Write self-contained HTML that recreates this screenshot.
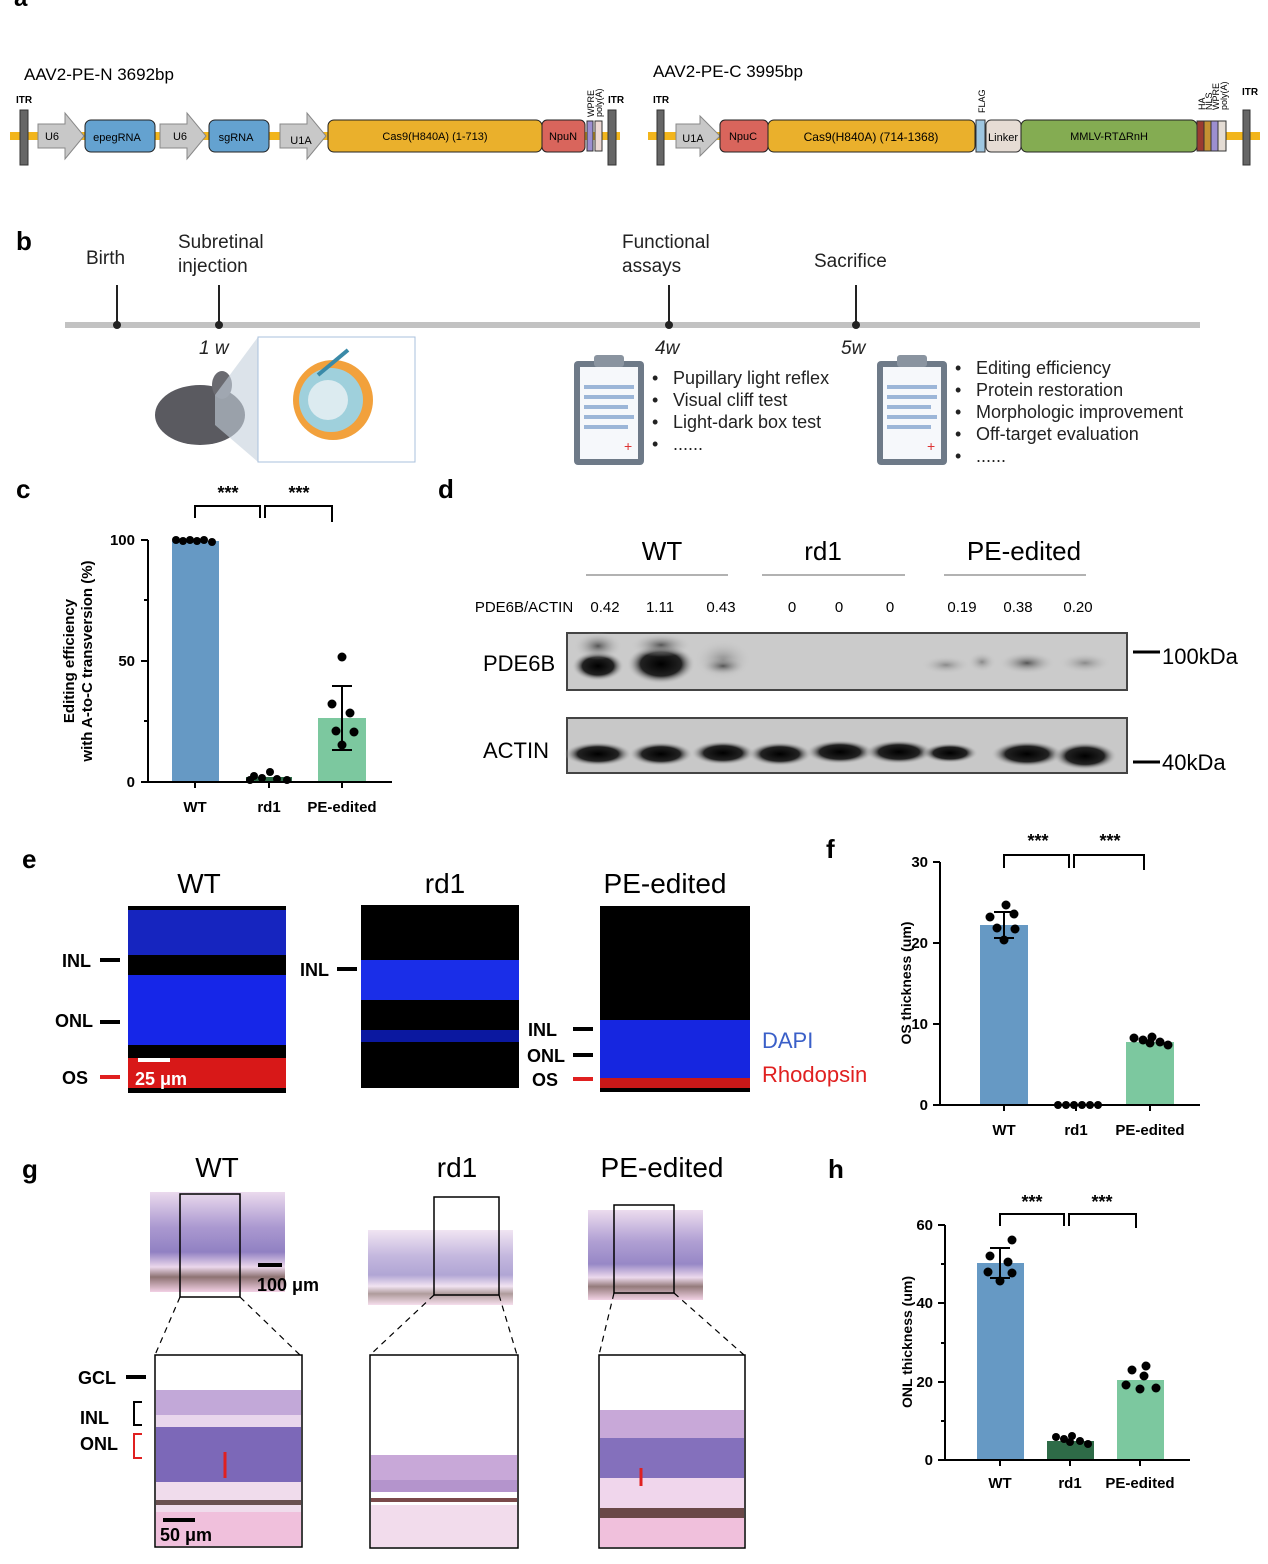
<!DOCTYPE html>
<html><head><meta charset="utf-8"><style>
html,body{margin:0;padding:0;background:#fff}
svg{display:block}
text{font-family:"Liberation Sans",Arial,sans-serif}
</style></head><body>
<svg width="1268" height="1564" viewBox="0 0 1268 1564" xmlns="http://www.w3.org/2000/svg">
<defs>
<radialGradient id="bd" cx="50%" cy="50%" r="50%"><stop offset="0" stop-color="#000"/><stop offset="0.6" stop-color="#222"/><stop offset="1" stop-color="#c8c8c8" stop-opacity="0"/></radialGradient>
<radialGradient id="bf" cx="50%" cy="50%" r="50%"><stop offset="0" stop-color="#555"/><stop offset="1" stop-color="#c8c8c8" stop-opacity="0"/></radialGradient>
<radialGradient id="bl" cx="50%" cy="50%" r="50%"><stop offset="0" stop-color="#8a8a8a"/><stop offset="1" stop-color="#c8c8c8" stop-opacity="0"/></radialGradient>
<linearGradient id="he" x1="0" y1="0" x2="0" y2="1"><stop offset="0" stop-color="#e7d3ea"/><stop offset="0.35" stop-color="#9c87c8"/><stop offset="0.6" stop-color="#7d6ab8"/><stop offset="0.75" stop-color="#e8d0e8"/><stop offset="0.85" stop-color="#7a5a5a"/><stop offset="1" stop-color="#f0c8e0"/></linearGradient>
</defs>
<text x="14" y="6" font-size="24" font-weight="bold">a</text>
<text x="24" y="80" font-size="17">AAV2-PE-N 3692bp</text>
<rect x="10" y="132" width="610" height="8" fill="#f2b51c"/>
<text x="16" y="103" font-size="10" font-weight="bold">ITR</text>
<rect x="20" y="110" width="8" height="55" fill="#666" stroke="#333"/>
<polygon points="38,124 65,124 65,113 84,136 65,159 65,148 38,148" fill="#c8c8c8" stroke="#888"/><text x="52" y="140" font-size="11" text-anchor="middle">U6</text>
<rect x="85" y="120" width="70" height="32" rx="6" fill="#64a2d0" stroke="#222"/><text x="117" y="141" font-size="11" text-anchor="middle">epegRNA</text>
<polygon points="160,124 187,124 187,113 206,136 187,159 187,148 160,148" fill="#c8c8c8" stroke="#888"/><text x="180" y="140" font-size="11" text-anchor="middle">U6</text>
<rect x="209" y="120" width="60" height="32" rx="6" fill="#64a2d0" stroke="#222"/><text x="236" y="141" font-size="11" text-anchor="middle">sgRNA</text>
<polygon points="280,124 307,124 307,113 326,136 307,159 307,148 280,148" fill="#c8c8c8" stroke="#888"/><text x="301" y="144" font-size="11" text-anchor="middle">U1A</text>
<rect x="328" y="120" width="214" height="32" rx="6" fill="#eab02c" stroke="#222"/><text x="435" y="140" font-size="11" text-anchor="middle">Cas9(H840A) (1-713)</text>
<rect x="542" y="120" width="43" height="32" rx="5" fill="#d9655c" stroke="#222"/><text x="563" y="140" font-size="11" text-anchor="middle">NpuN</text>
<rect x="587" y="121" width="6" height="30" fill="#9c8fd0" stroke="#333"/><rect x="595" y="121" width="7" height="30" fill="#ecd8d4" stroke="#333"/>
<text transform="translate(594,117) rotate(-90)" font-size="9">WPRE</text><text transform="translate(602,117) rotate(-90)" font-size="9">poly(A)</text>
<text x="608" y="103" font-size="10" font-weight="bold">ITR</text>
<rect x="608" y="110" width="8" height="55" fill="#666" stroke="#333"/>
<text x="653" y="77" font-size="17">AAV2-PE-C 3995bp</text>
<rect x="648" y="132" width="612" height="8" fill="#f2b51c"/>
<text x="653" y="103" font-size="10" font-weight="bold">ITR</text>
<rect x="657" y="110" width="7" height="55" fill="#666" stroke="#333"/>
<polygon points="676,124 700,124 700,116 720,136 700,156 700,148 676,148" fill="#c8c8c8" stroke="#888"/><text x="693" y="142" font-size="11" text-anchor="middle">U1A</text>
<rect x="720" y="120" width="48" height="32" rx="5" fill="#d9655c" stroke="#222"/><text x="743" y="140" font-size="11" text-anchor="middle">NpuC</text>
<rect x="768" y="120" width="207" height="32" rx="6" fill="#eab02c" stroke="#222"/><text x="871" y="141" font-size="12" text-anchor="middle">Cas9(H840A) (714-1368)</text>
<rect x="976" y="120" width="9" height="32" fill="#9ec6e0" stroke="#333"/><text transform="translate(985,113) rotate(-90)" font-size="9">FLAG</text>
<rect x="986" y="120" width="35" height="32" rx="5" fill="#e6dcd4" stroke="#333"/><text x="1003" y="141" font-size="11" text-anchor="middle">Linker</text>
<rect x="1021" y="120" width="176" height="32" rx="6" fill="#84ac52" stroke="#222"/><text x="1109" y="140" font-size="11" text-anchor="middle">MMLV-RTΔRnH</text>
<rect x="1197" y="121" width="7" height="30" fill="#9b3b30" stroke="#333"/><rect x="1204" y="121" width="7" height="30" fill="#c59232" stroke="#333"/><rect x="1211" y="121" width="7" height="30" fill="#9c8fd0" stroke="#333"/><rect x="1218" y="121" width="8" height="30" fill="#e4dcd4" stroke="#333"/>
<text transform="translate(1205,110) rotate(-90)" font-size="9">HA</text><text transform="translate(1212,110) rotate(-90)" font-size="9">NLS</text><text transform="translate(1219,110) rotate(-90)" font-size="9">WPRE</text><text transform="translate(1227,110) rotate(-90)" font-size="9">poly(A)</text>
<text x="1242" y="95" font-size="10" font-weight="bold">ITR</text>
<rect x="1243" y="110" width="7" height="55" fill="#666" stroke="#333"/>
<!-- panel b -->
<text x="16" y="250" font-size="26" font-weight="bold">b</text>
<rect x="65" y="322" width="1135" height="6" fill="#c2c2c2"/>
<g stroke="#222" stroke-width="2"><line x1="117" y1="285" x2="117" y2="325"/><line x1="219" y1="285" x2="219" y2="325"/><line x1="669" y1="285" x2="669" y2="325"/><line x1="856" y1="285" x2="856" y2="325"/></g>
<g fill="#222"><circle cx="117" cy="325" r="4"/><circle cx="219" cy="325" r="4"/><circle cx="669" cy="325" r="4"/><circle cx="856" cy="325" r="4"/></g>
<!-- mouse & eye -->
<ellipse cx="200" cy="415" rx="45" ry="30" fill="#5a5a60"/><ellipse cx="222" cy="385" rx="10" ry="14" fill="#6a6a70"/>
<polygon points="215,395 258,337 258,462 215,425" fill="#c4d0dc" opacity="0.6"/>
<rect x="258" y="337" width="157" height="125" fill="#fff" stroke="#aac0dc"/>
<circle cx="333" cy="400" r="40" fill="#f2a13c"/><circle cx="331" cy="400" r="32" fill="#9fd0dc"/><circle cx="328" cy="400" r="20" fill="#dcebf0"/>
<line x1="348" y1="350" x2="318" y2="375" stroke="#3a8aa8" stroke-width="4"/>
<g font-size="19" fill="#222"><text x="86" y="264">Birth</text><text x="178" y="248">Subretinal</text><text x="178" y="272">injection</text><text x="622" y="248">Functional</text><text x="622" y="272">assays</text><text x="814" y="267">Sacrifice</text>
<text x="199" y="354" font-style="italic">1 w</text><text x="655" y="354" font-style="italic">4w</text><text x="841" y="354" font-style="italic">5w</text></g>
<g transform="translate(574,355)"><rect x="0" y="6" width="70" height="104" rx="4" fill="#6e7a88"/><rect x="6" y="12" width="58" height="92" fill="#f6f8fb"/><rect x="20" y="0" width="30" height="12" rx="3" fill="#8a94a0"/><g fill="#9cb6d8"><rect x="10" y="30" width="50" height="4"/><rect x="10" y="40" width="50" height="4"/><rect x="10" y="50" width="44" height="4"/><rect x="10" y="60" width="50" height="4"/><rect x="10" y="70" width="44" height="4"/></g><text x="50" y="96" font-size="14" fill="#d33">+</text></g>
<g transform="translate(877,355)"><rect x="0" y="6" width="70" height="104" rx="4" fill="#6e7a88"/><rect x="6" y="12" width="58" height="92" fill="#f6f8fb"/><rect x="20" y="0" width="30" height="12" rx="3" fill="#8a94a0"/><g fill="#9cb6d8"><rect x="10" y="30" width="50" height="4"/><rect x="10" y="40" width="50" height="4"/><rect x="10" y="50" width="44" height="4"/><rect x="10" y="60" width="50" height="4"/><rect x="10" y="70" width="44" height="4"/></g><text x="50" y="96" font-size="14" fill="#d33">+</text></g>
<g font-size="18" fill="#222"><text x="652" y="384">•</text><text x="673" y="384">Pupillary light reflex</text><text x="652" y="406">•</text><text x="673" y="406">Visual cliff test</text><text x="652" y="428">•</text><text x="673" y="428">Light-dark box test</text><text x="652" y="450">•</text><text x="673" y="450">......</text>
<text x="955" y="374">•</text><text x="976" y="374">Editing efficiency</text><text x="955" y="396">•</text><text x="976" y="396">Protein restoration</text><text x="955" y="418">•</text><text x="976" y="418">Morphologic improvement</text><text x="955" y="440">•</text><text x="976" y="440">Off-target evaluation</text><text x="955" y="462">•</text><text x="976" y="462">......</text></g>
<!-- panel c -->
<text x="16" y="498" font-size="26" font-weight="bold">c</text>
<rect x="172" y="541" width="47" height="241" fill="#6699c4"/>
<rect x="246" y="777" width="46" height="5" fill="#2e6b47"/>
<rect x="318" y="718" width="48" height="64" fill="#7cc89f"/>
<g stroke="#000" stroke-width="2" fill="none">
<line x1="148" y1="540" x2="148" y2="782"/><line x1="148" y1="782" x2="392" y2="782"/>
<line x1="141" y1="540" x2="148" y2="540"/><line x1="141" y1="661" x2="148" y2="661"/><line x1="141" y1="782" x2="148" y2="782"/>
<line x1="144" y1="600" x2="148" y2="600"/><line x1="144" y1="721" x2="148" y2="721"/>
<line x1="195" y1="782" x2="195" y2="788"/><line x1="269" y1="782" x2="269" y2="788"/><line x1="342" y1="782" x2="342" y2="788"/>
<line x1="342" y1="686" x2="342" y2="750"/><line x1="332" y1="686" x2="352" y2="686"/><line x1="332" y1="750" x2="352" y2="750"/>
<polyline points="195,518 195,506 260,506 260,518"/><polyline points="265,518 265,506 332,506 332,522"/>
</g>
<g fill="#000"><circle cx="176" cy="540" r="4"/><circle cx="183" cy="541" r="4"/><circle cx="190" cy="540" r="4"/><circle cx="197" cy="541" r="4"/><circle cx="204" cy="540" r="4"/><circle cx="212" cy="542" r="4"/>
<circle cx="254" cy="776" r="4"/><circle cx="262" cy="778" r="4"/><circle cx="270" cy="772" r="4"/><circle cx="277" cy="779" r="4"/><circle cx="287" cy="780" r="4"/><circle cx="250" cy="780" r="4"/>
<circle cx="342" cy="657" r="4.5"/><circle cx="332" cy="704" r="4.5"/><circle cx="350" cy="713" r="4.5"/><circle cx="336" cy="731" r="4.5"/><circle cx="354" cy="732" r="4.5"/><circle cx="342" cy="745" r="4.5"/></g>
<g font-size="15" font-weight="bold"><text x="135" y="545" text-anchor="end">100</text><text x="135" y="666" text-anchor="end">50</text><text x="135" y="787" text-anchor="end">0</text>
<text x="195" y="812" text-anchor="middle">WT</text><text x="269" y="812" text-anchor="middle">rd1</text><text x="342" y="812" text-anchor="middle">PE-edited</text>
<text x="228" y="499" text-anchor="middle" font-size="18">***</text><text x="299" y="499" text-anchor="middle" font-size="18">***</text>
<text transform="translate(74,661) rotate(-90)" text-anchor="middle">Editing efficiency</text><text transform="translate(92,661) rotate(-90)" text-anchor="middle">with A-to-C transversion (%)</text></g>
<!-- panel d -->
<text x="438" y="498" font-size="26" font-weight="bold">d</text>
<g font-size="26" text-anchor="middle"><text x="662" y="560">WT</text><text x="823" y="560">rd1</text><text x="1024" y="560">PE-edited</text></g>
<g stroke="#999" stroke-width="1.5"><line x1="586" y1="575" x2="728" y2="575"/><line x1="762" y1="575" x2="905" y2="575"/><line x1="944" y1="575" x2="1086" y2="575"/></g>
<g font-size="15" text-anchor="middle"><text x="524" y="612">PDE6B/ACTIN</text><text x="605" y="612">0.42</text><text x="660" y="612">1.11</text><text x="721" y="612">0.43</text><text x="792" y="612">0</text><text x="839" y="612">0</text><text x="890" y="612">0</text><text x="962" y="612">0.19</text><text x="1018" y="612">0.38</text><text x="1078" y="612">0.20</text></g>
<rect x="567" y="633" width="560" height="57" fill="#cbcbcb" stroke="#444" stroke-width="2"/>
<ellipse cx="598" cy="666" rx="26" ry="15" fill="url(#bd)"/><ellipse cx="598" cy="646" rx="24" ry="14" fill="url(#bf)"/>
<ellipse cx="661" cy="664" rx="34" ry="20" fill="url(#bd)"/><ellipse cx="661" cy="645" rx="30" ry="12" fill="url(#bf)"/>
<ellipse cx="723" cy="660" rx="28" ry="20" fill="url(#bl)"/><ellipse cx="723" cy="666" rx="22" ry="9" fill="url(#bf)"/>
<ellipse cx="946" cy="665" rx="24" ry="9" fill="url(#bl)"/><ellipse cx="982" cy="662" rx="14" ry="10" fill="url(#bl)"/><ellipse cx="1027" cy="663" rx="28" ry="11" fill="url(#bf)"/><ellipse cx="1085" cy="663" rx="26" ry="10" fill="url(#bl)"/>
<rect x="567" y="718" width="560" height="55" fill="#c8c8c8" stroke="#444" stroke-width="2"/>
<g fill="url(#bd)"><ellipse cx="598" cy="754" rx="34" ry="12"/><ellipse cx="661" cy="754" rx="32" ry="12"/><ellipse cx="723" cy="753" rx="32" ry="12"/><ellipse cx="780" cy="754" rx="32" ry="12"/><ellipse cx="840" cy="752" rx="34" ry="12"/><ellipse cx="899" cy="752" rx="34" ry="12"/><ellipse cx="950" cy="753" rx="28" ry="10"/><ellipse cx="1027" cy="754" rx="36" ry="13"/><ellipse cx="1085" cy="756" rx="32" ry="14"/></g>
<g font-size="22"><text x="483" y="671">PDE6B</text><text x="483" y="758">ACTIN</text><text x="1162" y="664">100kDa</text><text x="1162" y="770">40kDa</text></g>
<g stroke="#000" stroke-width="3"><line x1="1133" y1="652" x2="1160" y2="652"/><line x1="1133" y1="762" x2="1160" y2="762"/></g>
<!-- panel e -->
<text x="22" y="868" font-size="26" font-weight="bold">e</text>
<g font-size="28" text-anchor="middle"><text x="199" y="893">WT</text><text x="445" y="893">rd1</text><text x="665" y="893">PE-edited</text></g>
<rect x="128" y="906" width="158" height="187" fill="#000"/>
<rect x="128" y="910" width="158" height="45" fill="#1a2be0" opacity="0.85"/><rect x="128" y="975" width="158" height="70" fill="#1626e8"/><rect x="128" y="1058" width="158" height="30" fill="#d81818"/>
<rect x="361" y="905" width="158" height="183" fill="#000"/>
<rect x="361" y="960" width="158" height="40" fill="#1a2ee8"/><rect x="361" y="1030" width="158" height="12" fill="#0b18a0"/>
<rect x="600" y="906" width="150" height="186" fill="#000"/>
<rect x="600" y="1020" width="150" height="58" fill="#1626e0"/><rect x="600" y="1078" width="150" height="10" fill="#c81818"/>
<line x1="138" y1="1060" x2="170" y2="1060" stroke="#fff" stroke-width="4"/><text x="135" y="1085" font-size="18" font-weight="bold" fill="#fff">25 μm</text>
<g font-size="18" font-weight="bold"><text x="62" y="967">INL</text><text x="55" y="1027">ONL</text><text x="62" y="1084">OS</text><text x="300" y="976">INL</text><text x="528" y="1036">INL</text><text x="527" y="1062">ONL</text><text x="532" y="1086">OS</text></g>
<g stroke-width="4"><line x1="100" y1="960" x2="120" y2="960" stroke="#000"/><line x1="100" y1="1022" x2="120" y2="1022" stroke="#000"/><line x1="100" y1="1077" x2="120" y2="1077" stroke="#e02020"/><line x1="337" y1="969" x2="357" y2="969" stroke="#000"/><line x1="573" y1="1029" x2="593" y2="1029" stroke="#000"/><line x1="573" y1="1055" x2="593" y2="1055" stroke="#000"/><line x1="573" y1="1079" x2="593" y2="1079" stroke="#e02020"/></g>
<text x="762" y="1048" font-size="22" fill="#3a5fc8">DAPI</text><text x="762" y="1082" font-size="22" fill="#e02020">Rhodopsin</text>
<!-- panel f -->
<text x="826" y="858" font-size="26" font-weight="bold">f</text>
<rect x="980" y="925" width="48" height="180" fill="#6699c4"/>
<rect x="1126" y="1042" width="48" height="63" fill="#7cc89f"/>
<g stroke="#000" stroke-width="2" fill="none"><line x1="940" y1="862" x2="940" y2="1105"/><line x1="940" y1="1105" x2="1200" y2="1105"/>
<line x1="933" y1="862" x2="940" y2="862"/><line x1="933" y1="943" x2="940" y2="943"/><line x1="933" y1="1024" x2="940" y2="1024"/><line x1="933" y1="1105" x2="940" y2="1105"/>
<line x1="1004" y1="1105" x2="1004" y2="1111"/><line x1="1076" y1="1105" x2="1076" y2="1111"/><line x1="1150" y1="1105" x2="1150" y2="1111"/>
<line x1="1004" y1="912" x2="1004" y2="938"/><line x1="994" y1="912" x2="1014" y2="912"/><line x1="994" y1="938" x2="1014" y2="938"/>
<polyline points="1004,868 1004,855 1069,855 1069,868"/><polyline points="1074,868 1074,855 1144,855 1144,870"/></g>
<g fill="#000"><circle cx="1006" cy="905" r="4.5"/><circle cx="990" cy="917" r="4.5"/><circle cx="1014" cy="914" r="4.5"/><circle cx="997" cy="928" r="4.5"/><circle cx="1015" cy="929" r="4.5"/><circle cx="1004" cy="940" r="4.5"/>
<circle cx="1058" cy="1105" r="4"/><circle cx="1066" cy="1105" r="4"/><circle cx="1074" cy="1105" r="4"/><circle cx="1082" cy="1105" r="4"/><circle cx="1090" cy="1105" r="4"/><circle cx="1098" cy="1105" r="4"/>
<circle cx="1134" cy="1038" r="4.5"/><circle cx="1143" cy="1040" r="4.5"/><circle cx="1152" cy="1037" r="4.5"/><circle cx="1160" cy="1042" r="4.5"/><circle cx="1168" cy="1045" r="4.5"/><circle cx="1150" cy="1043" r="4.5"/></g>
<g font-size="15" font-weight="bold"><text x="928" y="867" text-anchor="end">30</text><text x="928" y="948" text-anchor="end">20</text><text x="928" y="1029" text-anchor="end">10</text><text x="928" y="1110" text-anchor="end">0</text>
<text x="1004" y="1135" text-anchor="middle">WT</text><text x="1076" y="1135" text-anchor="middle">rd1</text><text x="1150" y="1135" text-anchor="middle">PE-edited</text>
<text x="1038" y="847" text-anchor="middle" font-size="18">***</text><text x="1110" y="847" text-anchor="middle" font-size="18">***</text>
<text transform="translate(911,983) rotate(-90)" text-anchor="middle" font-size="14">OS thickness (um)</text></g>
<!-- panel g -->
<text x="22" y="1178" font-size="26" font-weight="bold">g</text>
<g font-size="28" text-anchor="middle"><text x="217" y="1177">WT</text><text x="457" y="1177">rd1</text><text x="662" y="1177">PE-edited</text></g>
<rect x="150" y="1192" width="135" height="100" fill="url(#he)" opacity="0.85"/>
<rect x="368" y="1230" width="145" height="75" fill="url(#he)" opacity="0.6"/>
<rect x="588" y="1210" width="115" height="90" fill="url(#he)" opacity="0.8"/>
<g fill="none" stroke="#000" stroke-width="1.5"><rect x="180" y="1194" width="60" height="103"/><rect x="434" y="1197" width="65" height="98"/><rect x="614" y="1205" width="60" height="88"/></g>
<line x1="258" y1="1265" x2="282" y2="1265" stroke="#000" stroke-width="4"/><text x="257" y="1291" font-size="18" font-weight="bold">100 μm</text>
<g stroke="#000" stroke-width="1.2" stroke-dasharray="6,5"><line x1="180" y1="1297" x2="155" y2="1355"/><line x1="240" y1="1297" x2="300" y2="1355"/><line x1="434" y1="1295" x2="370" y2="1355"/><line x1="499" y1="1295" x2="517" y2="1355"/><line x1="614" y1="1293" x2="599" y2="1355"/><line x1="674" y1="1293" x2="744" y2="1355"/></g>
<rect x="155" y="1355" width="147" height="192" fill="#fff" stroke="#000" stroke-width="1.5"/>
<rect x="156" y="1390" width="145" height="25" fill="#c2a8d8"/><rect x="156" y="1415" width="145" height="12" fill="#e8d6ec"/><rect x="156" y="1427" width="145" height="55" fill="#7c68b8"/><rect x="156" y="1482" width="145" height="30" fill="#f0dcec"/><rect x="156" y="1500" width="145" height="5" fill="#6a5050"/><rect x="156" y="1512" width="145" height="34" fill="#f0c0dc"/>
<line x1="225" y1="1452" x2="225" y2="1478" stroke="#e02020" stroke-width="3"/>
<rect x="370" y="1355" width="148" height="193" fill="#fff" stroke="#000" stroke-width="1.5"/>
<rect x="371" y="1455" width="146" height="25" fill="#c8a8d8"/><rect x="371" y="1480" width="146" height="12" fill="#b494cc"/><rect x="371" y="1498" width="146" height="4" fill="#7a4a4a"/><rect x="371" y="1505" width="146" height="42" fill="#f2dcec"/>
<rect x="599" y="1355" width="146" height="193" fill="#fff" stroke="#000" stroke-width="1.5"/>
<rect x="600" y="1410" width="144" height="28" fill="#c8a8d8"/><rect x="600" y="1438" width="144" height="40" fill="#8470bc"/><rect x="600" y="1478" width="144" height="30" fill="#f0d6ec"/><rect x="600" y="1508" width="144" height="10" fill="#6a4848"/><rect x="600" y="1518" width="144" height="29" fill="#f0c0dc"/>
<line x1="641" y1="1468" x2="641" y2="1486" stroke="#e02020" stroke-width="3"/>
<line x1="163" y1="1520" x2="195" y2="1520" stroke="#000" stroke-width="4"/><text x="160" y="1541" font-size="18" font-weight="bold">50 μm</text>
<g font-size="18" font-weight="bold"><text x="78" y="1384">GCL</text><text x="80" y="1424">INL</text><text x="80" y="1450" >ONL</text></g>
<line x1="126" y1="1377" x2="146" y2="1377" stroke="#000" stroke-width="4"/>
<polyline points="142,1402 134,1402 134,1425 142,1425" fill="none" stroke="#000" stroke-width="2"/>
<polyline points="142,1434 134,1434 134,1458 142,1458" fill="none" stroke="#e02020" stroke-width="2"/>
<!-- panel h -->
<text x="828" y="1178" font-size="26" font-weight="bold">h</text>
<rect x="977" y="1263" width="47" height="197" fill="#6699c4"/>
<rect x="1047" y="1441" width="47" height="19" fill="#2e6b47"/>
<rect x="1117" y="1380" width="47" height="80" fill="#7cc89f"/>
<g stroke="#000" stroke-width="2" fill="none"><line x1="945" y1="1225" x2="945" y2="1460"/><line x1="945" y1="1460" x2="1190" y2="1460"/>
<line x1="938" y1="1225" x2="945" y2="1225"/><line x1="938" y1="1303" x2="945" y2="1303"/><line x1="938" y1="1382" x2="945" y2="1382"/><line x1="938" y1="1460" x2="945" y2="1460"/>
<line x1="941" y1="1264" x2="945" y2="1264"/><line x1="941" y1="1343" x2="945" y2="1343"/><line x1="941" y1="1421" x2="945" y2="1421"/>
<line x1="1000" y1="1460" x2="1000" y2="1466"/><line x1="1070" y1="1460" x2="1070" y2="1466"/><line x1="1140" y1="1460" x2="1140" y2="1466"/>
<line x1="1000" y1="1248" x2="1000" y2="1278"/><line x1="990" y1="1248" x2="1010" y2="1248"/><line x1="990" y1="1278" x2="1010" y2="1278"/>
<polyline points="1000,1226 1000,1214 1064,1214 1064,1226"/><polyline points="1069,1226 1069,1214 1136,1214 1136,1228"/></g>
<g fill="#000"><circle cx="1012" cy="1240" r="4.5"/><circle cx="990" cy="1256" r="4.5"/><circle cx="1008" cy="1262" r="4.5"/><circle cx="988" cy="1272" r="4.5"/><circle cx="1012" cy="1273" r="4.5"/><circle cx="1000" cy="1281" r="4.5"/>
<circle cx="1056" cy="1437" r="4"/><circle cx="1064" cy="1439" r="4"/><circle cx="1072" cy="1436" r="4"/><circle cx="1080" cy="1441" r="4"/><circle cx="1088" cy="1444" r="4"/><circle cx="1070" cy="1442" r="4"/>
<circle cx="1132" cy="1370" r="4.5"/><circle cx="1146" cy="1366" r="4.5"/><circle cx="1126" cy="1385" r="4.5"/><circle cx="1140" cy="1389" r="4.5"/><circle cx="1156" cy="1388" r="4.5"/><circle cx="1144" cy="1376" r="4.5"/></g>
<g font-size="15" font-weight="bold"><text x="933" y="1230" text-anchor="end">60</text><text x="933" y="1308" text-anchor="end">40</text><text x="933" y="1387" text-anchor="end">20</text><text x="933" y="1465" text-anchor="end">0</text>
<text x="1000" y="1488" text-anchor="middle">WT</text><text x="1070" y="1488" text-anchor="middle">rd1</text><text x="1140" y="1488" text-anchor="middle">PE-edited</text>
<text x="1032" y="1208" text-anchor="middle" font-size="18">***</text><text x="1102" y="1208" text-anchor="middle" font-size="18">***</text>
<text transform="translate(912,1342) rotate(-90)" text-anchor="middle" font-size="14">ONL thickness (um)</text></g>
</svg>
</body></html>
